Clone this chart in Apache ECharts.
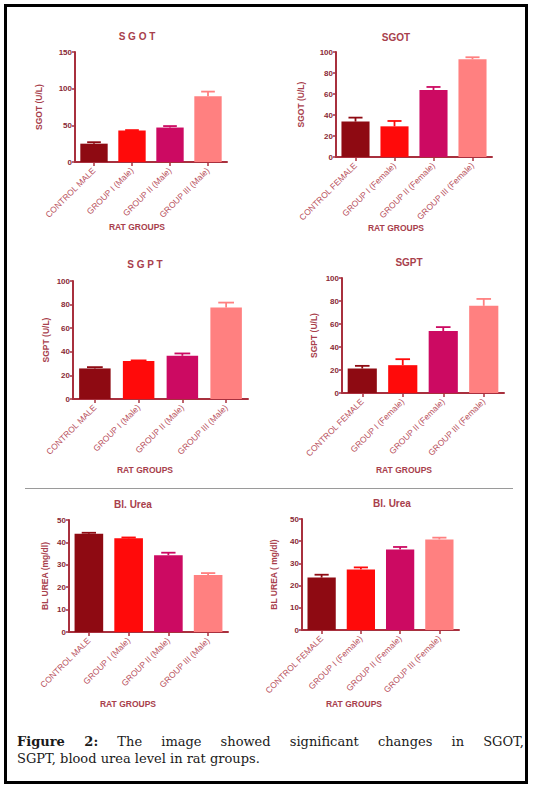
<!DOCTYPE html>
<html>
<head>
<meta charset="utf-8">
<script src="https://cdn.jsdelivr.net/npm/echarts@6/dist/echarts.min.js"></script>
<style>
  html, body { margin: 0; padding: 0; background: #fff; }
  #frame { position: absolute; left: 4px; top: 4px; width: 524px; height: 780px; box-sizing: border-box; border: 3px solid #000; }
  #chart { position: absolute; left: 0; top: 0; width: 533px; height: 786px; }
  .cap { position: absolute; left: 17px; width: 507px; font-family: "DejaVu Serif", serif; font-size: 13px; color: #1a1a1a; white-space: nowrap; }
  #cap1 { top: 734px; text-align: justify; text-align-last: justify; }
  #cap2 { top: 751px; }
</style>
</head>
<body>
<div id="chart"></div>
<div id="frame"></div>
<div class="cap" id="cap1"><b>Figure 2:</b> The image showed significant changes in SGOT,</div>
<div class="cap" id="cap2">SGPT, blood urea level in rat groups.</div>
<script>
// ---------- data ----------
var categoriesMale = ['CONTROL MALE', 'GROUP I (Male)', 'GROUP II (Male)', 'GROUP III (Male)'];
var categoriesFemale = ['CONTROL FEMALE', 'GROUP I (Female)', 'GROUP II (Female)', 'GROUP III (Female)'];

var sgotMale = [25, 43, 47, 89.5];
var sgotMaleErr = [2, 0.5, 2, 6.5];
var sgotFemale = [33.7, 29.2, 63.8, 93];
var sgotFemaleErr = [3.8, 5.1, 2.9, 2];
var sgptMale = [25.9, 32.1, 36.6, 77.5];
var sgptMaleErr = [1.1, 0.6, 2, 4.2];
var sgptFemale = [21.3, 24.2, 53.9, 75.8];
var sgptFemaleErr = [2.3, 5.2, 3.4, 6];
var ureaMale = [43.9, 41.8, 34.3, 25.4];
var ureaMaleErr = [0.4, 0.4, 1.1, 0.9];
var ureaFemale = [23.6, 27.3, 36.3, 40.8];
var ureaFemaleErr = [1.3, 0.9, 1.1, 0.8];

var panelTitles = ['S G O T', 'SGOT', 'S G P T', 'SGPT', 'Bl. Urea', 'Bl. Urea'];
var yAxisNames = ['SGOT (U/L)', 'SGOT (U/L)', 'SGPT (U/L)', 'SGPT (U/L)', 'BL UREA (mg/dl)', 'BL UREA ( mg/dl)'];
var yMax = [150, 100, 100, 100, 50, 50];
var yStep = [50, 20, 20, 20, 10, 10];
var xAxisName = 'RAT GROUPS';

// ---------- styling / layout ----------
var barColors = ['#8e0a12', '#ff0a0a', '#cc0a62', '#ff8080'];
var axisColor = '#a8303e';
var textColor = '#a8404c';
var labelColor = '#b8505c';

var panels = [
  { vals: sgotMale, errs: sgotMaleErr, cats: categoriesMale, grid: { left: 75, top: 52, width: 152, height: 110 }, title: [137, 36], xname: [137, 227], nameGap: 32 },
  { vals: sgotFemale, errs: sgotFemaleErr, cats: categoriesFemale, grid: { left: 336, top: 52, width: 156, height: 105 }, title: [396, 37], xname: [396, 228], nameGap: 31 },
  { vals: sgptMale, errs: sgptMaleErr, cats: categoriesMale, grid: { left: 73, top: 281, width: 175, height: 118 }, title: [145, 264], xname: [145, 470], nameGap: 23 },
  { vals: sgptFemale, errs: sgptFemaleErr, cats: categoriesFemale, grid: { left: 342, top: 278, width: 162, height: 115 }, title: [409, 262], xname: [404, 470], nameGap: 24 },
  { vals: ureaMale, errs: ureaMaleErr, cats: categoriesMale, grid: { left: 69, top: 520, width: 159, height: 112 }, title: [133, 504], xname: [128, 704], nameGap: 20 },
  { vals: ureaFemale, errs: ureaFemaleErr, cats: categoriesFemale, grid: { left: 302, top: 519, width: 157, height: 111 }, title: [392, 503], xname: [354, 704], nameGap: 24 }
];

var FONT = '"Liberation Sans", Arial, sans-serif';
var grids = [], xAxes = [], yAxes = [], series = [], graphics = [];

panels.forEach(function (p, i) {
  grids.push(Object.assign({ containLabel: false }, p.grid));
  xAxes.push({
    type: 'category', gridIndex: i, data: p.cats,
    axisLine: { lineStyle: { color: axisColor, width: 2 } },
    axisTick: { show: true, alignWithLabel: true, length: 4, lineStyle: { color: axisColor, width: 1.5 } },
    axisLabel: { rotate: 45, interval: 0, margin: 7, fontSize: 8.5, color: labelColor, fontFamily: FONT }
  });
  yAxes.push({
    type: 'value', gridIndex: i, min: 0, max: yMax[i], interval: yStep[i],
    name: yAxisNames[i], nameLocation: 'middle', nameGap: p.nameGap,
    nameTextStyle: { fontSize: 8.5, fontWeight: 'bold', color: textColor, fontFamily: FONT },
    splitLine: { show: false },
    axisLine: { show: true, lineStyle: { color: axisColor, width: 2 } },
    axisTick: { show: true, length: 3, lineStyle: { color: axisColor, width: 1.5 } },
    axisLabel: { fontSize: 8, fontWeight: 'bold', color: '#8a2a36', margin: 3, fontFamily: FONT }
  });
  series.push({
    type: 'bar', xAxisIndex: i, yAxisIndex: i, barCategoryGap: '28%',
    data: p.vals.map(function (v, k) { return { value: v, itemStyle: { color: barColors[k] } }; }),
    silent: true, animation: false
  });
  series.push({
    type: 'custom', xAxisIndex: i, yAxisIndex: i, silent: true, animation: false, z: 3,
    data: p.vals.map(function (v, k) { return [k, v, p.errs[k]]; }),
    renderItem: function (params, api) {
      var k = api.value(0), v = api.value(1), e = api.value(2);
      var base = api.coord([k, v]);
      var top = api.coord([k, v + e]);
      var bw = api.size([1, 0])[0] * 0.72;
      var half = bw * 0.25;
      var col = barColors[k];
      return {
        type: 'group',
        children: [
          { type: 'line', shape: { x1: base[0], y1: base[1], x2: top[0], y2: top[1] }, style: { stroke: col, lineWidth: 1.8 } },
          { type: 'line', shape: { x1: top[0] - half, y1: top[1], x2: top[0] + half, y2: top[1] }, style: { stroke: col, lineWidth: 1.8 } }
        ]
      };
    }
  });
  graphics.push({
    type: 'text', silent: true,
    style: { text: panelTitles[i], x: p.title[0], y: p.title[1], align: 'center', verticalAlign: 'middle',
      font: 'bold 10px ' + FONT, fill: textColor }
  });
  graphics.push({
    type: 'text', silent: true,
    style: { text: xAxisName, x: p.xname[0], y: p.xname[1], align: 'center', verticalAlign: 'middle',
      font: 'bold 8.5px ' + FONT, fill: textColor }
  });
});

graphics.push({
  type: 'line', silent: true,
  shape: { x1: 25, y1: 488.5, x2: 513, y2: 488.5 },
  style: { stroke: '#9a9a9a', lineWidth: 1 }
});

var chart = echarts.init(document.getElementById('chart'), null, { renderer: 'svg' });
chart.setOption({
  animation: false,
  grid: grids,
  xAxis: xAxes,
  yAxis: yAxes,
  series: series,
  graphic: graphics
});
</script>
</body>
</html>
